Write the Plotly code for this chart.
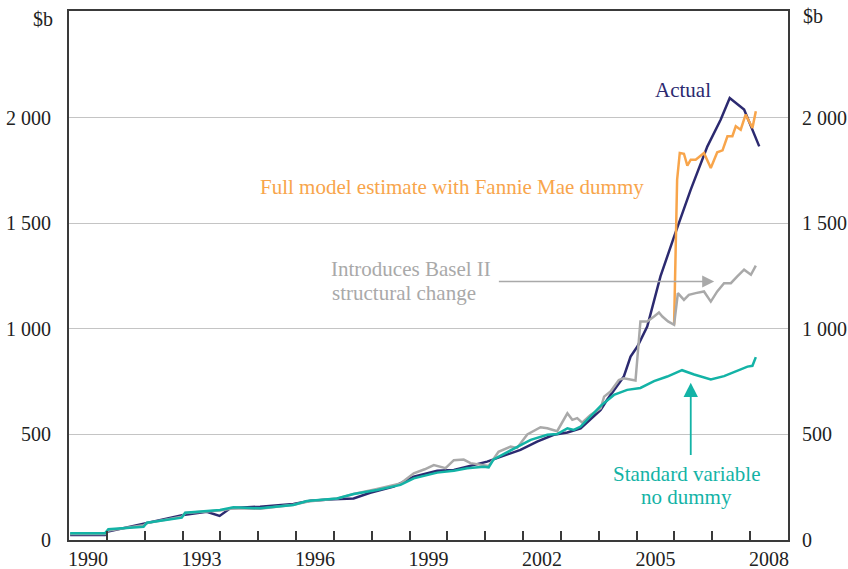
import plotly.graph_objects as go

# ===========================
# DATA ($b)
# ===========================

actual_x = [1990.03, 1990.95, 1991.0, 1991.97, 1993.02, 1993.64, 1993.98, 1994.26, 1995.05,
            1995.93, 1996.38, 1996.99, 1997.52, 1997.96, 1998.58, 1999.11, 1999.73, 2000.17,
            2001.05, 2001.93, 2002.37, 2002.81, 2003.17, 2003.52, 2004.05, 2004.22, 2004.66,
            2004.84, 2005.02, 2005.28, 2005.63, 2005.99, 2006.43, 2006.87, 2007.22, 2007.46,
            2007.84, 2008.24]
actual_y = [24, 24, 39, 76, 118, 134, 114, 150, 158,
            171, 186, 193, 197, 224, 253, 300, 328, 332,
            371, 427, 466, 498, 509, 529, 616, 664, 774,
            869, 916, 1011, 1248, 1437, 1659, 1864, 1990, 2093,
            2038, 1864]

standard_x = [1990.03, 1990.95, 1991.04, 1991.97, 1992.06, 1992.98, 1993.07, 1993.99, 1994.35,
              1995.05, 1995.93, 1996.29, 1997.08, 1997.52, 1998.14, 1998.76, 1999.11, 1999.73,
              2000.17, 2000.52, 2000.96, 2001.09, 2001.22, 2001.75, 2002.2, 2002.64, 2002.9,
              2003.17, 2003.34, 2003.52, 2003.87, 2004.05, 2004.4, 2004.75, 2005.1, 2005.46,
              2005.81, 2006.2, 2006.52, 2006.96, 2007.31, 2007.75, 2007.93, 2008.06, 2008.15]
standard_y = [32, 32, 51, 63, 82, 106, 129, 142, 155,
              150, 166, 185, 197, 218, 237, 261, 292, 319,
              328, 340, 347, 344, 382, 430, 474, 498, 502,
              529, 521, 537, 600, 635, 687, 711, 720, 752,
              774, 804, 784, 760, 776, 806, 821, 825, 866]

basel_x = [1990.03, 1990.95, 1991.04, 1991.97, 1992.06, 1992.98, 1993.07, 1993.5, 1993.99,
           1994.35, 1995.05, 1995.93, 1996.38, 1997.08, 1997.52, 1998.14, 1998.76, 1999.11,
           1999.4, 1999.64, 1999.95, 2000.17, 2000.43, 2000.61, 2000.92, 2001.09, 2001.35,
           2001.67, 2001.84, 2002.11, 2002.46, 2002.64, 2002.9, 2003.17, 2003.3, 2003.43,
           2003.56, 2003.78, 2004.05, 2004.14, 2004.31, 2004.53, 2004.66, 2004.97, 2005.1,
           2005.28, 2005.46, 2005.59, 2005.68, 2005.83, 2005.99, 2006.09, 2006.25, 2006.38,
           2006.56, 2006.78, 2006.96, 2007.13, 2007.31, 2007.49, 2007.66, 2007.84, 2008.02,
           2008.15]
basel_y = [28, 28, 45, 70, 80, 110, 128, 135, 140,
           150, 148, 167, 184, 196, 218, 242, 268, 316,
           335, 355, 340, 378, 381, 364, 355, 351, 418,
           442, 436, 500, 534, 529, 515, 600, 569, 577,
           556, 592, 624, 679, 703, 758, 766, 755, 1035,
           1035, 1058, 1077, 1058, 1035, 1019, 1169, 1137, 1161,
           1169, 1177, 1129, 1177, 1216, 1216, 1248, 1280, 1256,
           1299]

fannie_x = [2005.99, 2006.03, 2006.07, 2006.14, 2006.25, 2006.34, 2006.43, 2006.56, 2006.78,
            2006.96, 2007.13, 2007.27, 2007.4, 2007.53, 2007.62, 2007.75, 2007.88, 2008.06,
            2008.15]
fannie_y = [1019, 1295, 1706, 1833, 1829, 1773, 1801, 1801, 1833,
            1762, 1836, 1845, 1912, 1912, 1959, 1943, 2014, 1951,
            2030]

year_labels = ["1990", "1993", "1996", "1999", "2002", "2005", "2008"]
y_ticks = [0, 500, 1000, 1500, 2000]
y_ticktext = ["0", "500", "1 000", "1 500", "2 000"]

# ===========================
# STYLE
# ===========================

NAVY = "#2c2a70"
ORANGE = "#f8a54b"
GREY = "#a9a9a9"
TEAL = "#13b3a6"
AXIS = "#3a3a3a"
FONT = "Liberation Serif, Times New Roman, serif"
FS = 21      # annotation text
TICK_FS = 20  # axis labels

fig = go.Figure()

fig.add_trace(go.Scatter(x=actual_x, y=actual_y, mode="lines",
                         line=dict(color=NAVY, width=2.5)))
fig.add_trace(go.Scatter(x=fannie_x, y=fannie_y, mode="lines",
                         line=dict(color=ORANGE, width=2.5)))
fig.add_trace(go.Scatter(x=basel_x, y=basel_y, mode="lines",
                         line=dict(color=GREY, width=2.5)))
fig.add_trace(go.Scatter(x=standard_x, y=standard_y, mode="lines",
                         line=dict(color=TEAL, width=2.5)))
# invisible trace to activate the right-hand axis
fig.add_trace(go.Scatter(x=[2000], y=[0], yaxis="y2", mode="lines",
                         line=dict(width=0), hoverinfo="skip"))

fig.update_layout(
    width=848, height=569,
    margin=dict(l=69, r=60, t=11, b=29),
    paper_bgcolor="white", plot_bgcolor="white",
    showlegend=False,
    font=dict(family=FONT, size=TICK_FS, color="#222222"),
    xaxis=dict(
        range=[1990, 2009], automargin=False,
        tickmode="array",
        tickvals=[int(t) + 0.5 for t in year_labels],
        ticktext=year_labels,
        ticks="", showgrid=False, zeroline=False,
        showline=True, linecolor=AXIS, linewidth=2, mirror=True,
        minor=dict(tickmode="array", tickvals=list(range(1991, 2009)),
                   ticks="inside", ticklen=9, tickwidth=1.5, tickcolor=AXIS,
                   showgrid=False),
        ticklabelstandoff=0,
    ),
    yaxis=dict(
        range=[0, 2505], automargin=False,
        tickmode="array", tickvals=y_ticks, ticktext=y_ticktext,
        ticks="", showgrid=True, gridcolor="#c4c4c4", gridwidth=1,
        zeroline=False, showline=True, linecolor=AXIS, linewidth=2,
        ticklabelstandoff=12,
    ),
    yaxis2=dict(
        range=[0, 2505], overlaying="y", side="right", automargin=False,
        tickmode="array", tickvals=y_ticks, ticktext=y_ticktext,
        ticks="", showgrid=False, zeroline=False,
        showline=True, linecolor=AXIS, linewidth=2,
        ticklabelstandoff=8,
    ),
)

# "$b" unit labels
fig.add_annotation(text="$b", xref="paper", yref="paper", x=-0.019, y=0.985,
                   xanchor="right", yanchor="middle", showarrow=False)
fig.add_annotation(text="$b", xref="paper", yref="paper", x=1.018, y=0.99,
                   xanchor="left", yanchor="middle", showarrow=False)

# series labels
fig.add_annotation(text="Actual", x=2006.22, y=2133, showarrow=False,
                   font=dict(color=NAVY, size=FS))
fig.add_annotation(text="Full model estimate with Fannie Mae dummy", x=2000.13, y=1673,
                   showarrow=False, font=dict(color=ORANGE, size=FS))
fig.add_annotation(text="Introduces Basel II", x=1999.03, y=1282,
                   showarrow=False, font=dict(color=GREY, size=FS))
fig.add_annotation(text="structural change", x=1998.86, y=1171,
                   showarrow=False, font=dict(color=GREY, size=FS))
fig.add_annotation(text="Standard variable", x=2006.32, y=311,
                   showarrow=False, font=dict(color=TEAL, size=FS))
fig.add_annotation(text="no dummy", x=2006.32, y=204,
                   showarrow=False, font=dict(color=TEAL, size=FS))

# arrows
fig.add_annotation(text="", x=2007.05, y=1224, ax=2001.32, ay=1224,
                   xref="x", yref="y", axref="x", ayref="y",
                   showarrow=True, arrowhead=2, arrowsize=1.6, arrowwidth=1.5,
                   arrowcolor=GREY, standoff=0)
fig.add_annotation(text="", x=2006.43, y=745, ax=2006.43, ay=395,
                   xref="x", yref="y", axref="x", ayref="y",
                   showarrow=True, arrowhead=2, arrowsize=1.6, arrowwidth=1.8,
                   arrowcolor=TEAL, standoff=0)

# page body has a default 8px margin; drop it so the figure sits at the corner
fig.write_html("out.html", config={"displayModeBar": False},
               post_script="document.body.style.margin='0';")
